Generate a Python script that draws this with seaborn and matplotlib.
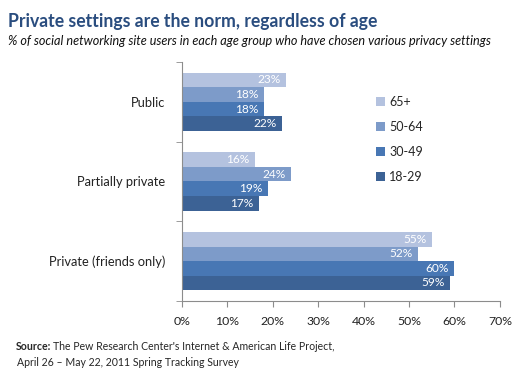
import numpy as np
import pandas as pd
import seaborn as sns
import matplotlib.pyplot as plt
from matplotlib.ticker import FixedLocator, PercentFormatter

# data
settings = ['Public', 'Partially private', 'Private (friends only)']
age_groups = ['65+', '50-64', '30-49', '18-29']
age_65 = [23, 16, 55]
age_50_64 = [18, 24, 52]
age_30_49 = [18, 19, 60]
age_18_29 = [22, 17, 59]

colors = ['#b4c2df', '#7d9bc9', '#4877b4', '#3c6295']

rows = []
for grp, vals in zip(age_groups, [age_65, age_50_64, age_30_49, age_18_29]):
    for s, v in zip(settings, vals):
        rows.append({'setting': s, 'age': grp, 'pct': v})
df = pd.DataFrame(rows)

sns.set_style('white')
plt.rcParams['font.family'] = ['Lato', 'DejaVu Sans']

fig = plt.figure(figsize=(5.29, 3.82), dpi=100)
ax = fig.add_axes([0.344, 0.212, 0.601, 0.626])

sns.barplot(data=df, x='pct', y='setting', hue='age', order=settings,
            hue_order=age_groups, palette=colors, orient='h', width=0.73,
            saturation=1, errorbar=None, linewidth=0, ax=ax)

# value labels inside the bar ends
for cont, grp in zip(ax.containers, age_groups):
    labels = [f'{v:.0f}%' for v in cont.datavalues]
    anns = ax.bar_label(cont, labels=labels, padding=-4, color='white', fontsize=8.6)
    for a in anns:
        a.set_ha('right')

ax.set_xlim(0, 70)
ax.set_ylim(2.5, -0.5)
ax.xaxis.set_major_locator(FixedLocator(np.arange(0, 71, 10)))
ax.xaxis.set_major_formatter(PercentFormatter(decimals=0))
ax.yaxis.set_minor_locator(FixedLocator([-0.5, 0.5, 1.5, 2.5]))
ax.tick_params(axis='y', which='major', length=0, pad=12, labelsize=9.3, colors='#222222')
ax.tick_params(axis='y', which='minor', length=4, color='#8c8c8c', left=True)
ax.tick_params(axis='x', length=4, color='#8c8c8c', bottom=True, labelsize=8.8,
               labelcolor='#222222', pad=7)
ax.set_xlabel('')
ax.set_ylabel('')
for side in ['top', 'right']:
    ax.spines[side].set_visible(False)
for side in ['left', 'bottom']:
    ax.spines[side].set_color('#8c8c8c')
    ax.spines[side].set_linewidth(0.8)

leg = ax.legend(loc='upper left', bbox_to_anchor=(0.575, 0.905), frameon=False,
                fontsize=9, handlelength=0.75, handleheight=0.75, handletextpad=0.3,
                labelspacing=1.05)
for h in leg.legend_handles:
    h.set_linewidth(0)

fig.text(0.015, 0.945, 'Private settings are the norm, regardless of age',
         fontsize=12.7, fontweight='bold', color='#2a4d7f', va='center')
fig.text(0.015, 0.893,
         '% of social networking site users in each age group who have chosen various privacy settings',
         fontsize=9.1, fontstyle='italic', color='#111111', va='center')
fig.text(0.03, 0.094, 'Source:', fontsize=7.6, fontweight='bold', va='center')
fig.text(0.101, 0.094, "The Pew Research Center's Internet & American Life Project,",
         fontsize=7.6, va='center')
fig.text(0.032, 0.052, 'April 26 \u2013 May 22, 2011 Spring Tracking Survey',
         fontsize=7.6, va='center')

fig.savefig('out.png', dpi=100)
